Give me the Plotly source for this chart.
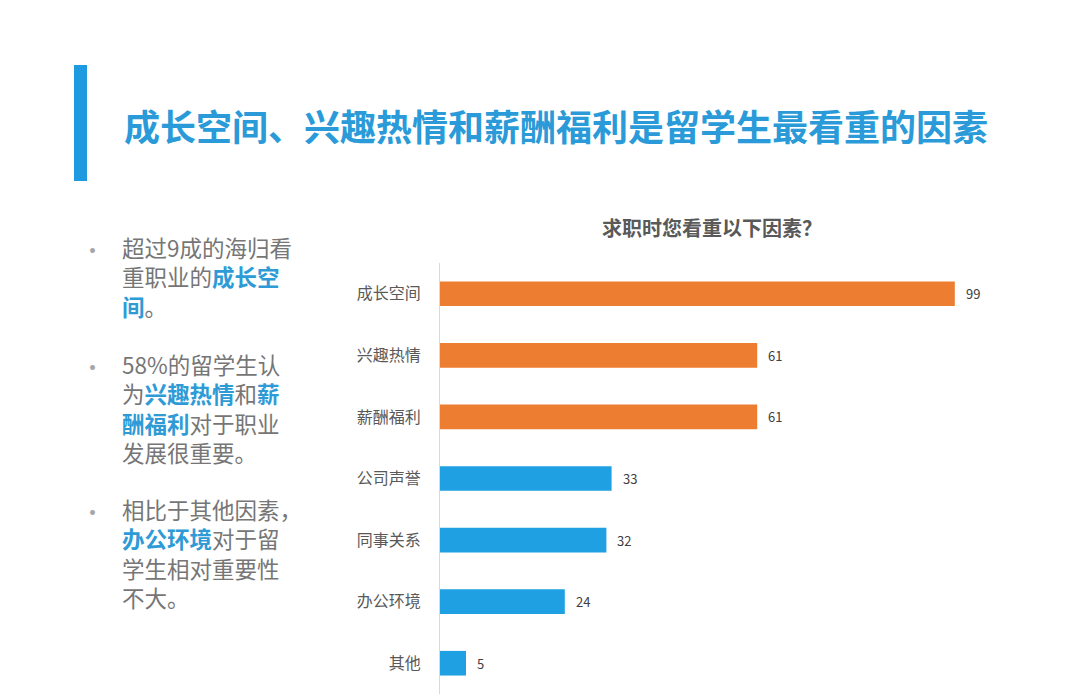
import plotly.graph_objects as go

categories = ["成长空间", "兴趣热情", "薪酬福利", "公司声誉", "同事关系", "办公环境", "其他"]
values = [99, 61, 61, 33, 32, 24, 5]
bar_colors = ["#ED7D31", "#ED7D31", "#ED7D31", "#1FA0E3", "#1FA0E3", "#1FA0E3", "#1FA0E3"]

title_text = "成长空间、兴趣热情和薪酬福利是留学生最看重的因素"
chart_title = "求职时您看重以下因素？"

HL = "#2E9BD6"
def hl(s):
    return f"<b><span style='color:{HL}'>{s}</span></b>"

bullet_lines = [
    ["超过9成的海归看", "重职业的" + hl("成长空"), hl("间") + "。"],
    ["58%的留学生认", "为" + hl("兴趣热情") + "和" + hl("薪"), hl("酬福利") + "对于职业", "发展很重要。"],
    ["相比于其他因素，", hl("办公环境") + "对于留", "学生相对重要性", "不大。"],
]
para_top = [248, 365, 510]

W, H = 1080, 695
L, R, T, B = 440, 80, 263, 1
PW, PH = W - L - R, H - T - B

def fx(px):
    return (px - L) / PW

def fy(py):
    return (H - B - py) / PH

FONT = "Noto Sans CJK SC"

fig = go.Figure(go.Bar(
    x=values,
    y=categories,
    orientation="h",
    marker=dict(color=bar_colors, line=dict(width=0)),
    hoverinfo="skip",
))

annotations = []
for c, v in zip(categories, values):
    annotations.append(dict(
        x=v, y=c, xref="x", yref="y", text=str(v), showarrow=False,
        xanchor="left", yanchor="middle", xshift=9,
        font=dict(family=FONT, size=13, color="#404040"),
    ))

annotations.append(dict(
    x=fx(556), y=fy(125), xref="paper", yref="paper", text=f"<b>{title_text}</b>",
    showarrow=False, xanchor="center", yanchor="middle",
    font=dict(family=FONT, size=36, color="#2A9BD8"),
))
annotations.append(dict(
    x=fx(712), y=fy(228), xref="paper", yref="paper", text=f"<b>{chart_title}</b>",
    showarrow=False, xanchor="center", yanchor="middle",
    font=dict(family=FONT, size=20, color="#595959"),
))

FS = 22.5
for para, y0 in zip(bullet_lines, para_top):
    annotations.append(dict(
        x=fx(92), y=fy(y0 + 1), xref="paper", yref="paper", text="•",
        showarrow=False, xanchor="center", yanchor="middle",
        font=dict(family=FONT, size=23, color="#A6A6A6"),
    ))
    annotations.append(dict(
        x=fx(120), y=fy(y0 - FS * 0.65 - 4), xref="paper", yref="paper",
        text="<br>".join(para), align="left",
        showarrow=False, xanchor="left", yanchor="top",
        font=dict(family=FONT, size=FS, color="#767676"),
    ))

fig.update_layout(
    width=W, height=H,
    margin=dict(l=L, r=R, t=T, b=B),
    paper_bgcolor="white", plot_bgcolor="white",
    showlegend=False,
    bargap=0.6,
    xaxis=dict(range=[0, PW / 5.2], visible=False, fixedrange=True),
    yaxis=dict(
        categoryorder="array", categoryarray=categories, autorange="reversed",
        showline=True, linecolor="#D9D9D9", linewidth=1,
        showgrid=False, zeroline=False, ticks="",
        ticklabelstandoff=15,
        tickfont=dict(family=FONT, size=16, color="#595959"),
        fixedrange=True,
    ),
    shapes=[dict(
        type="rect", xref="paper", yref="paper",
        x0=fx(74), x1=fx(87), y0=fy(181), y1=fy(65),
        fillcolor="#1E9BE0", line=dict(width=0),
    )],
    annotations=annotations,
)

fig.write_html("out.html", config={"displayModeBar": False},
               post_script="document.body.style.margin='0';")
